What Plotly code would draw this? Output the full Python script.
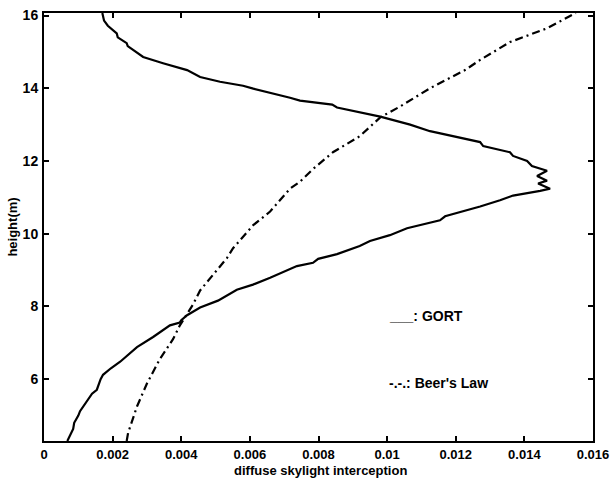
import plotly.graph_objects as go

# GORT (solid) profile: height (m) and interception
gort_h = [16.07, 16.0, 15.86, 15.72, 15.51, 15.40, 15.24, 15.16, 14.86, 14.69, 14.5, 14.31,
          14.18, 14.07, 13.99, 13.74, 13.66, 13.55, 13.47, 13.22, 13.0, 12.82, 12.68, 12.52,
          12.41, 12.24, 12.14, 12.0, 11.86, 11.73, 11.59, 11.46, 11.38, 11.24, 11.18, 11.05,
          10.92, 10.75, 10.48, 10.37, 10.15, 9.96, 9.8, 9.66, 9.44, 9.31, 9.2, 9.11, 8.79,
          8.6, 8.46, 8.16, 7.97, 7.76, 7.62, 7.56, 7.48, 7.29, 7.16, 6.88, 6.7, 6.48, 6.3, 6.12,
          6.0, 5.71, 5.6, 5.39, 5.12, 5.0, 4.8, 4.63, 4.3]
gort_x = [0.00170, 0.00172, 0.00175, 0.00186, 0.00212, 0.00215, 0.00241, 0.00244, 0.00289,
          0.00347, 0.00417, 0.00455, 0.00513, 0.00580, 0.00610, 0.00717, 0.00746, 0.00840,
          0.00854, 0.00980, 0.01067, 0.01125, 0.01190, 0.01271, 0.01280, 0.01358, 0.01367,
          0.01408, 0.01422, 0.01466, 0.01437, 0.01466, 0.01440, 0.01475, 0.01446, 0.01367,
          0.01329, 0.01271, 0.01169, 0.01154, 0.01058, 0.01008, 0.00950, 0.00920, 0.00854,
          0.00799, 0.00784, 0.00737, 0.00659, 0.00609, 0.00562, 0.00507, 0.00455, 0.00417,
          0.00400, 0.00396, 0.00367, 0.00338, 0.00318, 0.00271, 0.00250, 0.00222, 0.00195,
          0.00172, 0.00165, 0.00154, 0.00140, 0.00125, 0.00105, 0.00100, 0.00088, 0.00085,
          0.00068]

# Beer's Law (dash-dot) profile
beer_h = [4.3, 4.52, 5.25, 5.88, 6.56, 7.1, 7.48, 7.78, 8.05, 8.44, 8.98, 9.33, 9.6, 10.23,
          10.61, 11.02, 11.24, 11.43, 11.78, 12.24, 12.68, 13.2, 13.5, 14.0, 14.29, 14.5,
          14.78, 15.27, 15.65, 16.0, 16.07]
beer_x = [0.00241, 0.00245, 0.00271, 0.00300, 0.00338, 0.00376, 0.00396, 0.00417, 0.00434,
          0.00455, 0.00504, 0.00533, 0.00551, 0.00609, 0.00659, 0.00697, 0.00717, 0.00746,
          0.00784, 0.00842, 0.00920, 0.00980, 0.01038, 0.01125, 0.01183, 0.01227, 0.01271,
          0.01358, 0.01466, 0.01533, 0.01550]

x_ticks = [0, 0.002, 0.004, 0.006, 0.008, 0.01, 0.012, 0.014, 0.016]
x_tick_labels = ["0", "0.002", "0.004", "0.006", "0.008", "0.01", "0.012", "0.014", "0.016"]
y_ticks = [6, 8, 10, 12, 14, 16]
y_tick_labels = ["6", "8", "10", "12", "14", "16"]

font_family = "Liberation Sans, Arial, sans-serif"

fig = go.Figure()
fig.add_trace(go.Scatter(x=gort_x, y=gort_h, mode="lines",
                         line=dict(color="black", width=2.2), showlegend=False))
fig.add_trace(go.Scatter(x=beer_x, y=beer_h, mode="lines",
                         line=dict(color="black", width=2.2, dash="8px,4px,2px,4px"),
                         showlegend=False))

axis_common = dict(showline=True, linecolor="black", linewidth=2, mirror="allticks",
                   ticks="inside", ticklen=5, tickwidth=1.5, tickcolor="black",
                   showgrid=False, zeroline=False, automargin=False)

fig.update_xaxes(range=[0, 0.016], tickvals=x_ticks, ticktext=x_tick_labels,
                 ticklabelstandoff=0,
                 tickfont=dict(family=font_family, size=13, color="black", weight="bold"),
                 **axis_common)
fig.update_yaxes(range=[4.3, 16.07], tickvals=y_ticks, ticktext=y_tick_labels,
                 ticklabelstandoff=1,
                 tickfont=dict(family=font_family, size=14, color="black", weight="bold"),
                 title=dict(text="height(m)", standoff=2,
                            font=dict(family=font_family, size=13, color="black", weight="bold")),
                 **axis_common)

# x-axis title placed just under the tick labels, as in the original
fig.add_annotation(x=0.00807, y=-0.0885, xref="x", yref="paper",
                   text="diffuse skylight interception", showarrow=False,
                   xanchor="center", yanchor="bottom", borderpad=0,
                   font=dict(family=font_family, size=13, color="black", weight="bold"))

fig.add_annotation(x=0.01, y=7.75, xref="x", yref="y", text="___: GORT", showarrow=False,
                   xanchor="left", yanchor="middle",
                   font=dict(family=font_family, size=14, color="black", weight="bold"))
fig.add_annotation(x=0.01, y=5.9, xref="x", yref="y", text="-.-.: Beer's Law", showarrow=False,
                   xanchor="left", yanchor="middle",
                   font=dict(family=font_family, size=14, color="black", weight="bold"))

fig.update_layout(width=611, height=479, margin=dict(l=44, r=18, t=13, b=38),
                  paper_bgcolor="white", plot_bgcolor="white")

fig.write_html("out.html")
